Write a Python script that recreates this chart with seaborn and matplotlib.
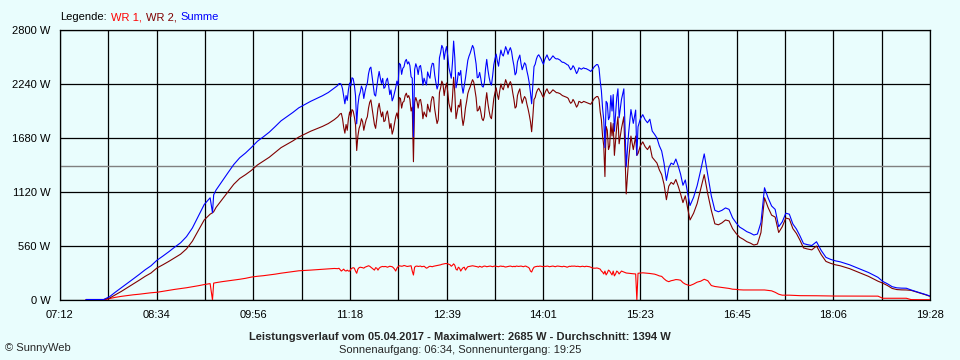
import numpy as np
import pandas as pd
import matplotlib
matplotlib.use('Agg')
import matplotlib.pyplot as plt
import seaborn as sns

# -----------------------------------------------------------------------------
# Data (time = minutes after midnight, power in W)
# -----------------------------------------------------------------------------
zeit_a = list(range(454, 560, 5)) + [561, 562] + list(range(564, 665, 5))
zeit_b = list(range(667, 906))
zeit_c = (list(range(907, 920, 2)) + [920, 921] + list(range(923, 966, 2))
          + list(range(968, 1065, 3)))
zeit_d = list(range(1068, 1169, 4))

# morning ramp
wr1_a = [0, 0, 0, 0, 15, 28, 38, 46, 54, 60, 68, 75, 80, 90, 100, 110, 118, 127, 137, 148, 160, 170,
         0, 175,
         180, 190, 198, 205, 215, 225, 238, 246, 252, 260, 268, 278, 286, 295, 303, 306, 310, 314, 318, 322, 327]
wr2_a = [5, 5, 5, 5, 20, 55, 90, 128, 165, 205, 245, 280, 332, 365, 400, 438, 475, 530, 610, 720, 830, 890,
         905, 915,
         960, 1040, 1120, 1200, 1260, 1300, 1345, 1400, 1440, 1480, 1530, 1580, 1615, 1650, 1690, 1720,
         1750, 1775, 1800, 1830, 1870]

# midday, one value per minute (11:07 .. 15:05)
wr1_b = [325, 329, 315, 300, 310, 320, 305, 300, 310, 300,
         300, 320, 330, 335, 330, 300, 277, 320, 335, 340,
         338, 335, 330, 340, 345, 350, 355, 350, 340, 330,
         320, 310, 335, 330, 310, 330, 340, 345, 348, 345,
         348, 345, 340, 345, 350, 348, 345, 335, 320, 300,
         330, 345, 355, 352, 350, 352, 358, 355, 350, 348,
         350, 352, 355, 300, 259, 340, 350, 352, 348, 350,
         352, 345, 348, 350, 340, 330, 335, 345, 350, 348,
         345, 350, 352, 355, 358, 360, 362, 365, 370, 372,
         375, 378, 378, 375, 370, 365, 350, 360, 375, 360,
         320, 310, 340, 330, 300, 320, 335, 340, 310, 330,
         345, 348, 350, 352, 355, 352, 350, 348, 345, 340,
         350, 345, 340, 348, 352, 350, 345, 348, 350, 352,
         348, 345, 350, 352, 350, 348, 345, 350, 352, 348,
         350, 345, 342, 345, 348, 350, 352, 348, 345, 350,
         345, 352, 350, 348, 350, 352, 348, 345, 350, 352,
         345, 340, 330, 300, 290, 320, 340, 345, 348, 350,
         348, 352, 350, 348, 345, 350, 348, 352, 350, 345,
         348, 350, 352, 348, 345, 350, 352, 350, 348, 345,
         345, 350, 348, 345, 340, 345, 350, 348, 352, 350,
         352, 350, 348, 350, 348, 345, 348, 350, 348, 345,
         350, 348, 345, 345, 340, 335, 330, 330, 330, 332,
         330, 325, 320, 300, 290, 270, 300, 260, 280, 310,
         300, 280, 260, 300, 250, 270, 300, 290, 270]
wr2_b = [1900, 1915, 1930, 1935, 1880, 1790, 1730, 1820, 1760, 1880,
         1950, 1900, 1975, 1960, 1900, 1820, 1550, 1700, 1780, 1815,
         1880, 1850, 1760, 1820, 1870, 1900, 1990, 2050, 2075, 1990,
         1900, 1820, 1780, 1880, 1990, 2040, 1960, 1900, 1950, 1850,
         1860, 1930, 1960, 1880, 1780, 1830, 1720, 1763, 1830, 1900,
         1940, 1880, 2100, 2090, 1990, 2050, 2060, 2120, 2145, 2100,
         2120, 2080, 1960, 2000, 1434, 2050, 2100, 2060, 1990, 2070,
         2080, 2010, 1880, 1950, 1920, 1900, 2030, 1980, 1950, 2060,
         2110, 2100, 1980, 1900, 1830, 1870, 2150, 2200, 2270, 2240,
         2120, 2200, 2250, 2160, 2040, 1990, 1950, 2100, 2310, 2150,
         1880, 1950, 2020, 2000, 2080, 1900, 1810, 1880, 1990, 2060,
         2140, 2180, 2210, 2250, 2285, 2260, 2180, 2100, 1960, 1970,
         2010, 1950, 1880, 1860, 1900, 2050, 2150, 2040, 1960, 1900,
         1880, 1980, 2090, 2150, 2200, 2130, 2080, 2170, 2240, 2200,
         2180, 2230, 2285, 2250, 2200, 2240, 2265, 2230, 2150, 2080,
         1990, 2005, 2120, 2160, 2190, 2100, 2040, 2080, 2110, 2090,
         2030, 1980, 1920, 1850, 1745, 1900, 2080, 2100, 2150, 2180,
         2195, 2170, 2150, 2120, 2100, 2140, 2170, 2190, 2160, 2140,
         2150, 2165, 2180, 2170, 2160, 2150, 2150, 2145, 2140, 2130,
         2120, 2115, 2110, 2105, 2100, 2090, 2060, 2040, 2050, 2080,
         2060, 2030, 2000, 2020, 2060, 2055, 2045, 2050, 2060, 2055,
         2050, 2045, 2040, 2035, 2030, 2050, 2070, 2090, 2100, 2110,
         2110, 2080, 1950, 1870, 1700, 1600, 1280, 1800, 1760, 1560,
         1600, 1840, 1700, 1830, 1500, 1650, 1800, 1900, 1620]

# afternoon
wr1_c = [300, 290, 280, 277, 275, 272, 270, 0, 277,
         280, 282, 280, 278, 275, 272, 268, 260, 250, 245,
         220, 200, 190, 200, 205, 212, 210, 205, 180, 165,
         156, 150,
         165, 185, 195, 215, 200, 150, 140, 135, 130, 125,
         120, 112, 110, 106, 104, 104, 104, 104, 104, 104,
         104, 100, 95, 80, 60, 50, 50, 50, 48, 46,
         45, 45, 45]
wr2_c = [1780, 1900, 1100, 1450, 1700, 1560, 1700, 1500, 1520,
         1600, 1640, 1590, 1560, 1600, 1480, 1450, 1420, 1350, 1300,
         1200, 1040, 1180, 1220, 1200, 1250, 1180, 1100, 1010, 1080,
         950, 830,
         900, 1000, 1150, 1300, 1100, 930, 790, 780, 800, 830,
         820, 740, 690, 650, 630, 605, 590, 570, 580, 700,
         1060, 960, 880, 860, 700, 760, 850, 840, 740, 690,
         620, 540, 530]

# evening
wr1_d = [45, 44, 43, 42, 41, 41, 41, 40, 40, 40, 40, 40, 40, 40, 40,
         18, 18, 18, 18, 18, 18, 4, 3, 3, 3, 3]
wr2_d = [520, 560, 470, 400, 380, 365, 355, 340, 325, 305, 285, 265, 245, 220, 195,
         175, 150, 120, 108, 105, 104, 100, 85, 70, 55, 38]

zeit = zeit_a + zeit_b + zeit_c + zeit_d
wr1 = wr1_a + wr1_b + wr1_c + wr1_d
wr2 = wr2_a + wr2_b + wr2_c + wr2_d

x_labels = ["07:12", "08:34", "09:56", "11:18", "12:39", "14:01", "15:23", "16:45", "18:06", "19:28"]
y_values = [0, 560, 1120, 1680, 2240, 2800]
durchschnitt = 1394
t_start, t_end = 432, 1168   # 07:12 .. 19:28

df = pd.DataFrame({'zeit': zeit, 'WR 1': wr1, 'WR 2': wr2})
df['Summe'] = df['WR 1'] + df['WR 2']

# -----------------------------------------------------------------------------
# Plot
# -----------------------------------------------------------------------------
BG = '#E9FDFD'
sns.set_style('white')
plt.rcParams['font.family'] = ['Liberation Sans', 'DejaVu Sans']

fig = plt.figure(figsize=(9.6, 3.6), dpi=100, facecolor=BG)
ax = fig.add_axes([60 / 960, 60 / 360, 870 / 960, 270 / 360])
ax.set_facecolor(BG)

series = [('WR 1', '#FF0000'), ('WR 2', '#800000'), ('Summe', '#0000FF')]
for col, color in series:
    sns.lineplot(data=df, x='zeit', y=col, color=color, lw=0.8,
                 estimator=None, sort=False, ax=ax, zorder=3)

ax.axhline(durchschnitt, color='#808080', lw=1.0, zorder=2)

step = (t_end - t_start) / 9
ax.set_xticks([t_start + k * step for k in range(10)])
ax.set_xticks([t_start + (k + 0.5) * step for k in range(9)], minor=True)
ax.set_xticklabels(x_labels)
ax.set_yticks(y_values)
ax.set_yticklabels([f'{v} W' for v in y_values])
ax.set_xlim(t_start, t_end)
ax.set_ylim(0, 2800)
ax.set_xlabel('')
ax.set_ylabel('')

ax.set_axisbelow(True)
ax.grid(which='both', color='black', lw=0.9)
ax.tick_params(which='both', direction='out', length=4, width=0.9, color='black',
               labelsize=8, pad=3, labelcolor='black')
for sp in ax.spines.values():
    sp.set_color('black')
    sp.set_linewidth(0.9)

# legend line
t0 = fig.text(60 / 960, 1 - 17 / 360, 'Legende:', fontsize=8, va='center', color='black')
prev = t0
for label, color in [('WR 1,', '#FF0000'), ('WR 2,', '#800000'), ('Summe', '#0000FF')]:
    prev = ax.annotate(label, xy=(1, 0), xycoords=prev, xytext=(3, 0), textcoords='offset points',
                       fontsize=8, color=color, va='bottom', ha='left', annotation_clip=False)

fig.text(460 / 960, 1 - 337 / 360,
         'Leistungsverlauf vom 05.04.2017 - Maximalwert: 2685 W - Durchschnitt: 1394 W',
         ha='center', va='center', fontsize=8, fontweight='bold')
fig.text(460 / 960, 1 - 350 / 360, 'Sonnenaufgang: 06:34, Sonnenuntergang: 19:25',
         ha='center', va='center', fontsize=8)
fig.text(5 / 960, 1 - 348 / 360, '© SunnyWeb', ha='left', va='center', fontsize=8)

fig.savefig('out.png', dpi=100, facecolor=BG)
